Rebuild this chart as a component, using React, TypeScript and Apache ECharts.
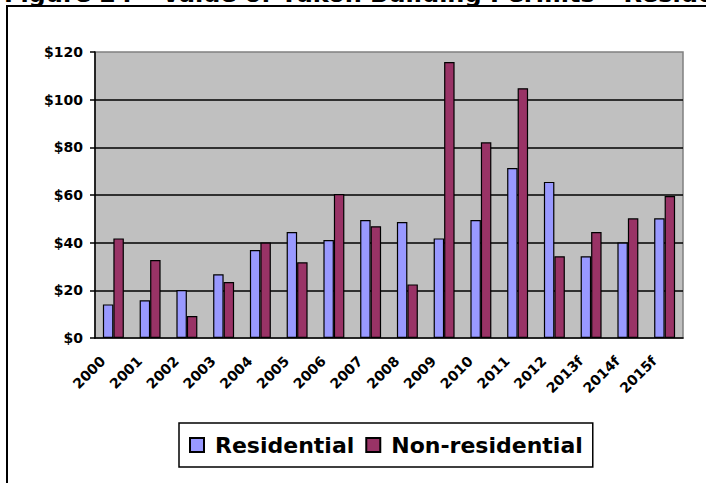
import React, { useEffect, useRef } from "react";
import * as echarts from "echarts";

// Yearly values of building permits, $ millions ("f" = forecast)
const years = [
  "2000", "2001", "2002", "2003", "2004", "2005", "2006", "2007",
  "2008", "2009", "2010", "2011", "2012", "2013f", "2014f", "2015f",
];
const residential = [14.1, 15.8, 20.1, 26.7, 36.9, 44.5, 41.1, 49.5, 48.7, 41.8, 49.5, 71.3, 65.5, 34.3, 40.1, 50.2];
const nonResidential = [41.8, 32.7, 9.2, 23.5, 40.1, 31.8, 60.4, 46.9, 22.5, 115.8, 82.1, 104.8, 34.3, 44.5, 50.2, 59.6];
const titleText = "Figure 24 – Value of Yukon Building Permits – Residential and Non-residential";

const FONT = "'DejaVu Sans', Verdana, sans-serif";

export default function App() {
  const ref = useRef<HTMLDivElement>(null);

  useEffect(() => {
    if (!ref.current) return;
    const chart = echarts.init(ref.current, null, { renderer: "svg" });
    chart.setOption({
      animation: false,
      backgroundColor: "#ffffff",
      textStyle: { fontFamily: FONT },
      graphic: [
        {
          // page heading, running off the top edge above the framed chart
          type: "text",
          x: 4,
          y: 6,
          style: {
            text: titleText,
            font: `bold 24px ${FONT}`,
            fill: "#000",
            verticalAlign: "bottom",
          },
        },
        {
          type: "rect",
          shape: { x: 7, y: 6, width: 760, height: 520 },
          style: { fill: "none", stroke: "#000", lineWidth: 2 },
          z: 10,
        },
      ],
      legend: {
        left: 179,
        top: 423,
        itemWidth: 14,
        itemHeight: 14,
        itemGap: 11,
        padding: [11, 10, 11, 10],
        borderColor: "#000",
        borderWidth: 1.5,
        icon: "rect",
        textStyle: { fontSize: 22, fontWeight: "bold", color: "#000", fontFamily: FONT, padding: [0, 0, 0, 6] },
        data: ["Residential", "Non-residential"],
      },
      grid: {
        left: 95,
        top: 52,
        right: 23,
        bottom: 145,
        show: true,
        backgroundColor: "#C0C0C0",
        borderColor: "#808080",
        borderWidth: 1.5,
      },
      xAxis: {
        type: "category",
        data: years,
        axisLine: { lineStyle: { color: "#000", width: 1.5 } },
        axisTick: { length: 4, lineStyle: { color: "#000", width: 1.5 } },
        axisLabel: {
          rotate: 45,
          margin: 10,
          padding: [0, 15, 0, 0],
          fontSize: 14,
          fontWeight: "bold",
          color: "#000",
          fontFamily: FONT,
          interval: 0,
        },
      },
      yAxis: {
        type: "value",
        min: 0,
        max: 120,
        interval: 20,
        axisLine: { show: true, lineStyle: { color: "#000", width: 1.5 } },
        axisTick: { show: true, length: 5, lineStyle: { color: "#000", width: 1.5 } },
        splitLine: { show: true, showMaxLine: false, showMinLine: false, lineStyle: { color: "#000", width: 1.5 } },
        axisLabel: {
          margin: 12,
          fontSize: 14,
          fontWeight: "bold",
          color: "#000",
          fontFamily: FONT,
          formatter: (v: number) => "$" + v,
        },
      },
      series: [
        {
          name: "Residential",
          type: "bar",
          data: residential,
          barGap: "0%",
          barCategoryGap: "43%",
          itemStyle: { color: "#9999FF", borderColor: "#000", borderWidth: 1.2 },
        },
        {
          name: "Non-residential",
          type: "bar",
          data: nonResidential,
          barGap: "0%",
          barCategoryGap: "43%",
          itemStyle: { color: "#993366", borderColor: "#000", borderWidth: 1.2 },
        },
      ],
    });
    return () => chart.dispose();
  }, []);

  return (
    <div
      ref={ref}
      style={{ position: "fixed", left: 0, top: 0, width: 706, height: 483 }}
    />
  );
}
